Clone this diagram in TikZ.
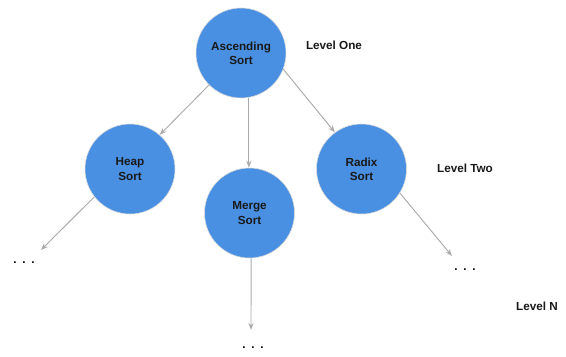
\documentclass[tikz,border=0pt]{standalone}
\usepackage{fontspec}
\setmainfont{Liberation Sans}
\usepackage{tikz}
\usetikzlibrary{arrows.meta}
\definecolor{sortblue}{RGB}{74,144,226}
\definecolor{edgegray}{RGB}{170,170,170}
\tikzstyle{sortnode}=[circle, fill=sortblue, draw=black!15, line width=0.5pt, minimum size=2.7cm, inner sep=0pt, align=center, font=\bfseries\fontsize{10}{12}\selectfont, text=black!90]
\tikzstyle{levellabel}=[font=\bfseries\fontsize{10}{12}\selectfont, text=black!90]
\tikzstyle{dotlabel}=[font=\bfseries\fontsize{10}{12}\selectfont]
\tikzstyle{edge}=[draw=edgegray, line width=0.8pt, -{Stealth[length=6pt,width=4.5pt,open]}]

\begin{document}
\begin{tikzpicture}[x=0.03cm, y=-0.03cm]
	\useasboundingbox (0,0) rectangle (566,356);
	% sort nodes
	\node[sortnode] (asc) at (241,53) {Ascending\\Sort};
	\node[sortnode] (heap) at (130,169) {Heap\\Sort};
	\node[sortnode] (merge) at (249.5,213) {Merge\\Sort};
	\node[sortnode] (radix) at (361.5,169) {Radix\\Sort};
	% levels
	\node[levellabel] (lone) at (334,45) {Level One};
	\node[levellabel] (ltwo) at (465,168) {Level Two};
	\node[levellabel] (ln) at (537,306) {Level N};
	% dots
	\node[dotlabel] (dleft) at (24,263) {.\enspace.\enspace.};
	\node[dotlabel] (dmid) at (253,348) {.\enspace.\enspace.};
	\node[dotlabel] (dright) at (465,270) {.\enspace.\enspace.};
	\coordinate (eleft) at (41,250);
	\coordinate (emid) at (251,330);
	\coordinate (eright) at (452,256);
	% edges
	\draw[edge] (asc.-135) -- (heap.49);
	\draw[edge] (asc.-80) -- (asc.-80 |- merge.north);
	\draw[edge] (asc.-21) -- (radix.126);
	\draw[edge] (heap.-142) -- (eleft);
	\draw[edge] (merge.-88) -- (emid);
	\draw[edge] (radix.-32) -- (eright);
\end{tikzpicture}
\end{document}
